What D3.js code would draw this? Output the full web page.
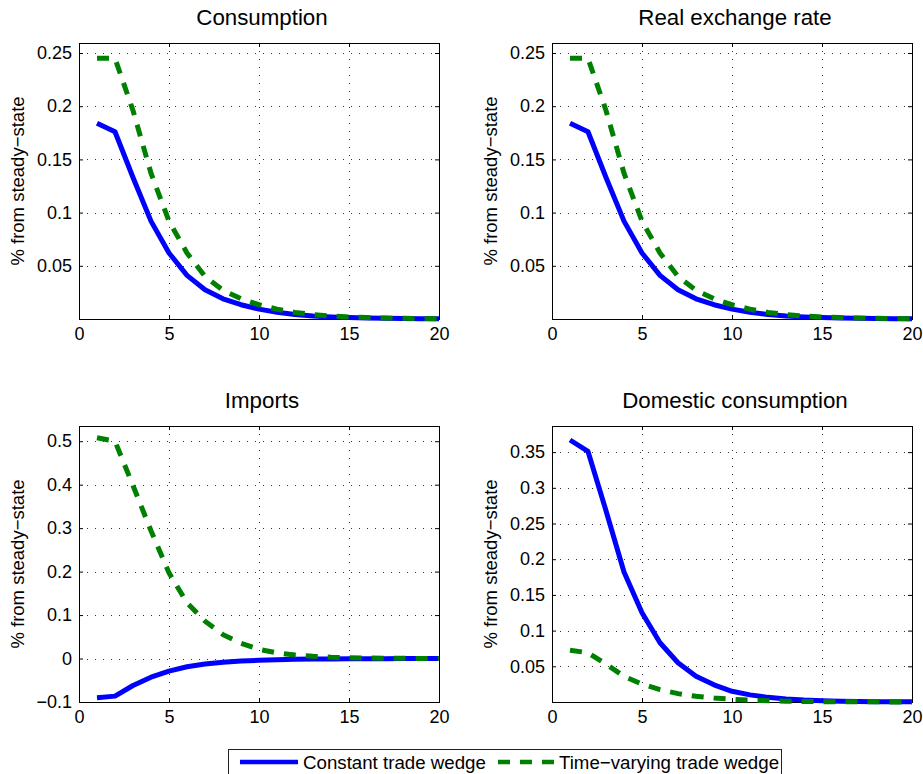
<!DOCTYPE html>
<html>
<head>
<meta charset="utf-8">
<script src="https://cdn.jsdelivr.net/npm/d3@7"></script>
<style>
  body { margin: 0; background: #fff; }
  svg { display: block; font-family: "Liberation Sans", Arial, sans-serif; }
</style>
</head>
<body>
<svg id="chart" width="923" height="774"></svg>
<script>
// impulse responses, 20 periods, two scenarios

var periods = [1,2,3,4,5,6,7,8,9,10,11,12,13,14,15,16,17,18,19,20];
var xTicks = [0, 5, 10, 15, 20];

var consConst = [0.184,0.176,0.133,0.092,0.062,0.041,0.0275,0.019,0.0134,0.0093,0.0063,0.0042,0.0028,0.0019,0.0013,0.0009,0.0006,0.0004,0.0003,0.0002];
var consVary  = [0.245,0.245,0.196,0.137,0.092,0.062,0.040,0.027,0.019,0.0134,0.0092,0.0062,0.0042,0.0028,0.0019,0.0013,0.0009,0.0006,0.0004,0.0003];

var rerConst = [0.184,0.176,0.133,0.092,0.062,0.041,0.0275,0.019,0.0134,0.0093,0.0063,0.0042,0.0028,0.0019,0.0013,0.0009,0.0006,0.0004,0.0003,0.0002];
var rerVary  = [0.245,0.245,0.196,0.137,0.092,0.062,0.040,0.027,0.019,0.0134,0.0092,0.0062,0.0042,0.0028,0.0019,0.0013,0.0009,0.0006,0.0004,0.0003];

var impConst = [-0.090,-0.0865,-0.062,-0.043,-0.029,-0.019,-0.0125,-0.0085,-0.0058,-0.004,-0.0027,-0.0018,-0.0012,-0.0008,-0.0005,-0.0004,-0.0003,-0.0002,-0.0001,-0.0001];
var impVary  = [0.508,0.500,0.398,0.294,0.197,0.128,0.086,0.055,0.035,0.021,0.013,0.008,0.005,0.003,0.002,0.0012,0.0008,0.0005,0.0003,0.0002];

var domConst = [0.367,0.351,0.268,0.182,0.125,0.083,0.055,0.036,0.024,0.015,0.010,0.0065,0.0042,0.0027,0.0018,0.0012,0.0008,0.0005,0.0003,0.0002];
var domVary  = [0.0725,0.069,0.053,0.036,0.025,0.0174,0.0117,0.008,0.0055,0.0038,0.0026,0.0018,0.0012,0.0008,0.0005,0.0004,0.0003,0.0002,0.0001,0.0001];

var seriesNames = ["Constant trade wedge", "Time\u2212varying trade wedge"];
var yLabel = "% from steady\u2212state";

var panels = [
    {title: "Consumption", a: consConst, b: consVary, yDomain: [0, 0.2594], yTicks: [0.05, 0.1, 0.15, 0.2, 0.25], left: 79, top: 43},
    {title: "Real exchange rate", a: rerConst, b: rerVary, yDomain: [0, 0.2594], yTicks: [0.05, 0.1, 0.15, 0.2, 0.25], left: 552, top: 43},
    {title: "Imports", a: impConst, b: impVary, yDomain: [-0.1, 0.535], yTicks: [-0.1, 0, 0.1, 0.2, 0.3, 0.4, 0.5], left: 79, top: 426},
    {title: "Domestic consumption", a: domConst, b: domVary, yDomain: [0, 0.3866], yTicks: [0.05, 0.1, 0.15, 0.2, 0.25, 0.3, 0.35], left: 552, top: 426}
];

var pw = 360, ph = 276;
var blue = "#0000ff", green = "#008000";
var dash = "12,10";

var svg = d3.select("#chart");

function fmt(v) {
    return (v < 0 ? "\u2212" : "") + Math.abs(v);
}

panels.forEach(function(p) {
    var g = svg.append("g").attr("transform", "translate(" + p.left + "," + p.top + ")");

    var x = d3.scaleLinear().domain([0, 20]).range([0, pw]);
    var y = d3.scaleLinear().domain(p.yDomain).range([ph, 0]);

    // dotted grid
    g.selectAll(".gx").data(xTicks.slice(1, -1)).enter().append("line")
        .attr("x1", d => x(d) + 0.5).attr("x2", d => x(d) + 0.5)
        .attr("y1", 0).attr("y2", ph)
        .attr("stroke", "#333").attr("stroke-dasharray", "1,7");
    g.selectAll(".gy").data(p.yTicks.filter(v => v > p.yDomain[0])).enter().append("line")
        .attr("x1", 0).attr("x2", pw)
        .attr("y1", d => Math.round(y(d)) + 0.5).attr("y2", d => Math.round(y(d)) + 0.5)
        .attr("stroke", "#333").attr("stroke-dasharray", "1,7");

    // axes, ticks pointing inward
    var ax = g.append("g").attr("transform", "translate(0," + ph + ")")
        .call(d3.axisBottom(x).tickValues(xTicks).tickSize(-4).tickPadding(8).tickFormat(d3.format("d")));
    var ay = g.append("g")
        .call(d3.axisLeft(y).tickValues(p.yTicks).tickSize(-4).tickPadding(7).tickFormat(fmt));
    g.append("g").attr("transform", "translate(" + pw + ",0)")
        .call(d3.axisRight(y).tickValues(p.yTicks).tickSize(-4).tickFormat(""));
    g.append("g")
        .call(d3.axisTop(x).tickValues(xTicks).tickSize(-4).tickFormat(""));
    g.selectAll(".domain").remove();
    g.selectAll(".tick line").attr("stroke", "#000");
    [ax, ay].forEach(function(a) {
        a.selectAll("text").attr("font-size", "18px").attr("fill", "#000")
            .attr("font-family", "Liberation Sans, Arial, sans-serif");
    });

    g.append("rect").attr("x", 0.5).attr("y", 0.5).attr("width", pw).attr("height", ph)
        .attr("fill", "none").attr("stroke", "#000").attr("stroke-width", 1);

    var line = d3.line().x((d, i) => x(periods[i])).y(d => y(d));

    g.append("path").datum(p.a).attr("d", line)
        .attr("fill", "none").attr("stroke", blue).attr("stroke-width", 5)
        .attr("stroke-linejoin", "round");
    g.append("path").datum(p.b).attr("d", line)
        .attr("fill", "none").attr("stroke", green).attr("stroke-width", 5)
        .attr("stroke-dasharray", dash);

    g.append("text").attr("x", pw / 2 + 3).attr("y", -18)
        .attr("text-anchor", "middle").attr("font-size", "22.3px").text(p.title);

    g.append("text")
        .attr("transform", "translate(" + (-55) + "," + (ph / 2) + ") rotate(-90)")
        .attr("text-anchor", "middle").attr("font-size", "18.5px").text(yLabel);
});

// legend
var lg = svg.append("g").attr("transform", "translate(228,749)");
lg.append("rect").attr("x", 0.5).attr("y", 0.5).attr("width", 553).attr("height", 40)
    .attr("fill", "#fff").attr("stroke", "#222");
lg.append("line").attr("x1", 12).attr("x2", 70).attr("y1", 13).attr("y2", 13)
    .attr("stroke", blue).attr("stroke-width", 4.5);
lg.append("text").attr("x", 75).attr("y", 19.5).attr("font-size", "18.7px").text(seriesNames[0]);
lg.append("line").attr("x1", 270).attr("x2", 326).attr("y1", 13).attr("y2", 13)
    .attr("stroke", green).attr("stroke-width", 4.5).attr("stroke-dasharray", dash);
lg.append("text").attr("x", 331).attr("y", 19.5).attr("font-size", "18.7px").text(seriesNames[1]);
</script>
</body>
</html>
